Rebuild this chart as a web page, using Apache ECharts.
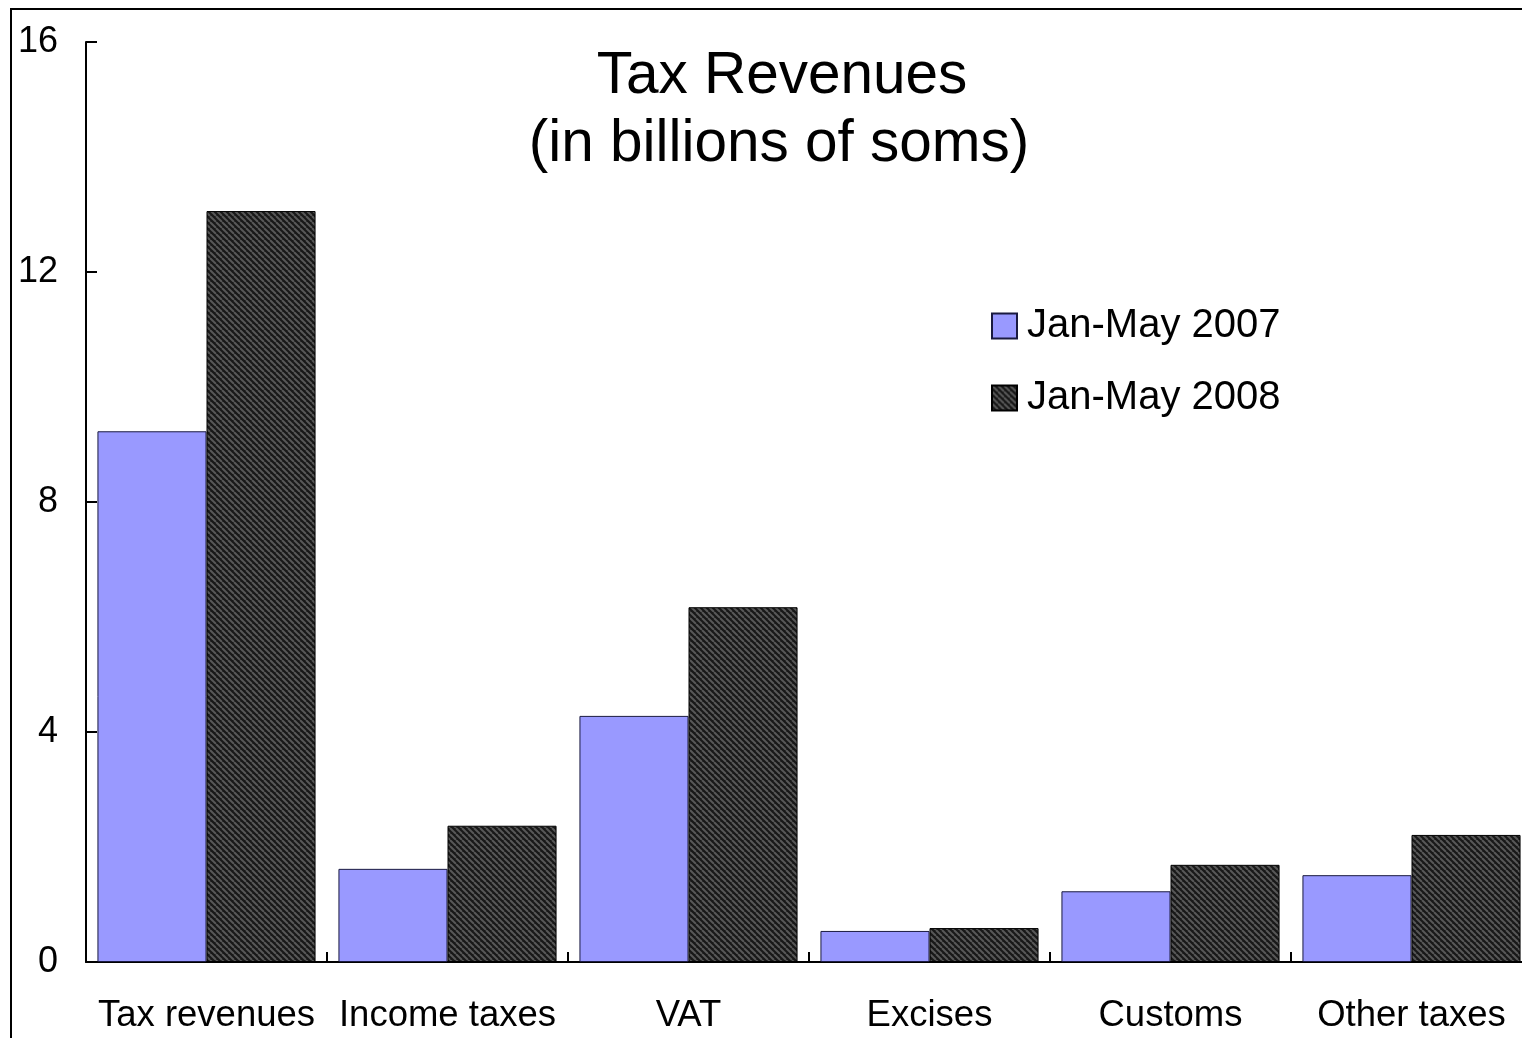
<!DOCTYPE html>
<html>
<head>
<meta charset="utf-8">
<title>Tax Revenues</title>
<script src="https://cdn.jsdelivr.net/npm/echarts@6/dist/echarts.min.js"></script>
<style>
  html, body { margin: 0; padding: 0; background: #fff; overflow: hidden; }
  /* the plot runs slightly past the right edge of the window */
  #chart { width: 1532px; height: 1038px; }
</style>
</head>
<body>
<div id="chart"></div>
<script>
// Tax revenue categories and values (billions of soms)
const categories = ['Tax revenues', 'Income taxes', 'VAT', 'Excises', 'Customs', 'Other taxes'];
const jan2007 = [9.23, 1.62, 4.28, 0.54, 1.23, 1.51];
const jan2008 = [13.06, 2.37, 6.17, 0.59, 1.69, 2.21];
const yTicks = { min: 0, max: 16, interval: 4 };
const seriesNames = ['Jan-May 2007', 'Jan-May 2008'];

const FONT = '"Liberation Sans", Arial, Helvetica, sans-serif';

// Dark diagonal hatch used for the 2008 bars
function makeHatch() {
  const s = 6;
  const c = document.createElement('canvas');
  c.width = s; c.height = s;
  const g = c.getContext('2d');
  g.fillStyle = '#181818';
  g.fillRect(0, 0, s, s);
  g.strokeStyle = '#585858';
  g.lineWidth = 2;
  for (let k = -1; k <= 1; k++) {
    g.beginPath();
    g.moveTo(k * s, 0);
    g.lineTo(k * s + s, s);
    g.stroke();
  }
  return c;
}
const hatch = { image: makeHatch(), repeat: 'repeat' };

const chart = echarts.init(document.getElementById('chart'), null, { renderer: 'canvas' });

chart.setOption({
  animation: false,
  backgroundColor: '#ffffff',
  textStyle: { fontFamily: FONT },
  graphic: [
    {
      type: 'rect',
      shape: { x: 11, y: 9, width: 1700, height: 1200 },
      style: { fill: 'none', stroke: '#000', lineWidth: 2 },
      silent: true,
      z: -1
    },
    {
      type: 'text',
      x: 782, y: 77,
      style: { text: 'Tax Revenues', font: '58.5px ' + FONT, fill: '#000', align: 'center', verticalAlign: 'middle' }
    },
    {
      type: 'text',
      x: 779, y: 145,
      style: { text: '(in billions of soms)', font: '58.5px ' + FONT, fill: '#000', align: 'center', verticalAlign: 'middle' }
    }
  ],
  legend: {
    orient: 'vertical',
    left: 991,
    top: 306,
    padding: 0,
    itemWidth: 25,
    itemHeight: 25,
    itemGap: 32,
    icon: 'rect',
    textStyle: { fontSize: 40, lineHeight: 40, color: '#000', fontFamily: FONT, padding: [0, 0, 0, 5] },
    data: seriesNames
  },
  grid: { left: 86, top: 42, right: 0, bottom: 76, containLabel: false },
  xAxis: {
    type: 'category',
    data: categories,
    axisLine: { lineStyle: { color: '#000', width: 2 } },
    axisTick: { show: true, inside: true, length: 10, lineStyle: { color: '#000', width: 2 } },
    axisLabel: { color: '#000', fontSize: 36.5, margin: 35, fontFamily: FONT, interval: 0 },
    splitLine: { show: false }
  },
  yAxis: {
    type: 'value',
    min: yTicks.min,
    max: yTicks.max,
    interval: yTicks.interval,
    axisLine: { show: true, lineStyle: { color: '#000', width: 2 } },
    axisTick: { show: true, inside: true, length: 11, lineStyle: { color: '#000', width: 2 } },
    axisLabel: { color: '#000', fontSize: 36, margin: 28, fontFamily: FONT },
    splitLine: { show: false }
  },
  series: [
    {
      name: seriesNames[0],
      type: 'bar',
      data: jan2007,
      barGap: '0%',
      barCategoryGap: '9.5%',
      itemStyle: { color: '#9999ff', borderColor: '#1a1a40', borderWidth: 1 }
    },
    {
      name: seriesNames[1],
      type: 'bar',
      data: jan2008,
      barGap: '0%',
      barCategoryGap: '9.5%',
      itemStyle: { color: hatch, borderColor: '#000', borderWidth: 1 }
    }
  ]
});
</script>
</body>
</html>
